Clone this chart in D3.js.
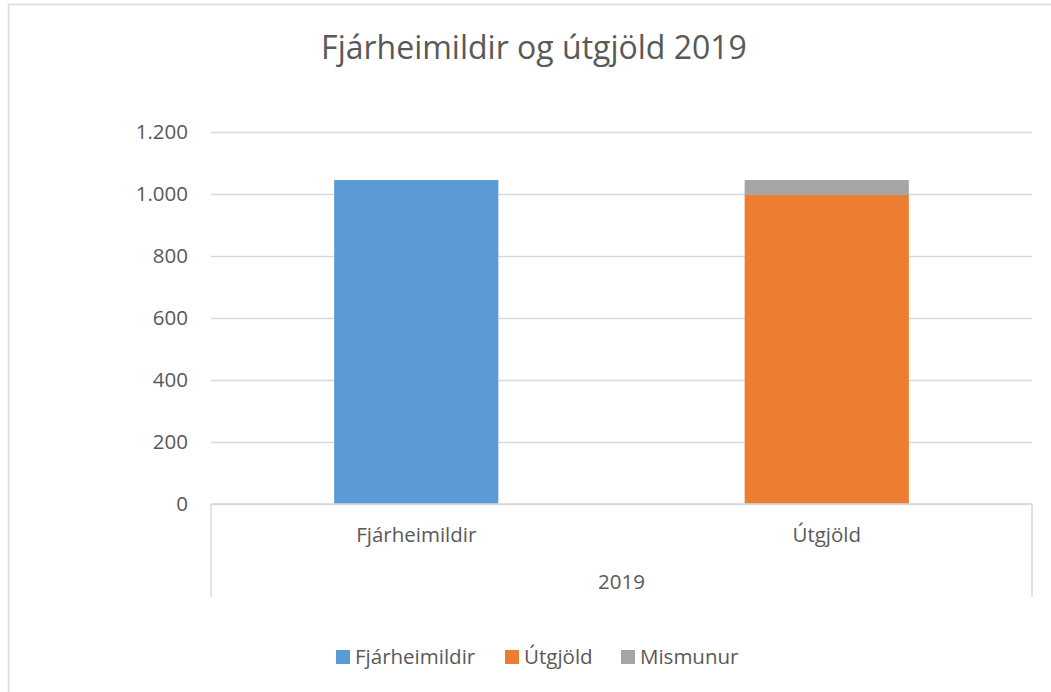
<!DOCTYPE html>
<html>
<head>
<meta charset="utf-8">
<script src="https://cdn.jsdelivr.net/npm/d3@7"></script>
<style>
  body { margin: 0; background: #fff; }
  svg { font-family: "Open Sans", sans-serif; }
</style>
</head>
<body>
<svg id="chart"></svg>
<script>
// data
var categories = ["Fjárheimildir", "Útgjöld"];
var groupLabel = "2019";
var seriesNames = ["Fjárheimildir", "Útgjöld", "Mismunur"];
var fjarheimildir = [1045, 0];
var utgjold = [0, 997];
var mismunur = [0, 48];
var yTicks = [0, 200, 400, 600, 800, 1000, 1200];

var width = 1051, height = 692;
var colors = ["#5B9BD5", "#ED7D31", "#A5A5A5"];
var textColor = "#595959";
var gridColor = "#D9D9D9";
var fontSize = 20.5;

var svg = d3.select("#chart")
    .attr("width", width)
    .attr("height", height);

// outer chart frame
svg.append("rect")
    .attr("x", 8.5).attr("y", 4.5)
    .attr("width", width + 10).attr("height", height + 10)
    .attr("fill", "none")
    .attr("stroke", gridColor)
    .attr("stroke-width", 1.5);

var margin = {top: 132, right: 19, bottom: 188, left: 211};
var plotW = width - margin.left - margin.right,
    plotH = height - margin.top - margin.bottom;

var g = svg.append("g")
    .attr("transform", "translate(" + margin.left + "," + margin.top + ")");

var x = d3.scaleBand().domain(categories).range([0, plotW])
    .paddingInner(0.6).paddingOuter(0.3);
var y = d3.scaleLinear().domain([0, 1200]).range([plotH, 0]);

// title
svg.append("text")
    .attr("x", 534)
    .attr("y", 59)
    .attr("text-anchor", "middle")
    .attr("fill", textColor)
    .attr("font-size", 32)
    .text("Fjárheimildir og útgjöld 2019");

// gridlines + y labels
var yAxis = g.append("g")
    .call(d3.axisLeft(y).tickValues(yTicks).tickSize(-plotW).tickPadding(23)
        .tickFormat(function(d) { return d3.format(",")(d).replace(/,/g, "."); }));
yAxis.select(".domain").remove();
yAxis.selectAll(".tick line").attr("stroke", gridColor).attr("stroke-width", 1.5);
yAxis.selectAll(".tick text")
    .attr("fill", textColor)
    .attr("font-size", fontSize)
    .attr("font-family", "Open Sans, sans-serif");

// stacked bars
var rows = categories.map(function(c, i) {
    return {cat: c, "Fjárheimildir": fjarheimildir[i], "Útgjöld": utgjold[i], "Mismunur": mismunur[i]};
});
var stacked = d3.stack().keys(seriesNames)(rows);

g.selectAll("g.series")
    .data(stacked)
    .enter().append("g")
    .attr("class", "series")
    .attr("fill", function(d, i) { return colors[i]; })
    .selectAll("rect")
    .data(function(d) { return d; })
    .enter().append("rect")
    .attr("x", function(d) { return x(d.data.cat); })
    .attr("y", function(d) { return y(d[1]); })
    .attr("width", x.bandwidth())
    .attr("height", function(d) { return y(d[0]) - y(d[1]); });

// category axis (two levels)
var axisG = g.append("g").attr("transform", "translate(0," + plotH + ")");
axisG.append("line")
    .attr("x1", 0).attr("x2", plotW)
    .attr("stroke", gridColor).attr("stroke-width", 1.5);
[0, plotW].forEach(function(px) {
    axisG.append("line")
        .attr("x1", px).attr("x2", px)
        .attr("y1", 0).attr("y2", 93)
        .attr("stroke", gridColor).attr("stroke-width", 1.5);
});
axisG.selectAll("text.cat")
    .data(categories)
    .enter().append("text")
    .attr("class", "cat")
    .attr("x", function(d) { return x(d) + x.bandwidth() / 2; })
    .attr("y", 38)
    .attr("text-anchor", "middle")
    .attr("fill", textColor)
    .attr("font-size", fontSize)
    .text(function(d) { return d; });
axisG.append("text")
    .attr("x", plotW / 2)
    .attr("y", 85)
    .attr("text-anchor", "middle")
    .attr("fill", textColor)
    .attr("font-size", fontSize)
    .text(groupLabel);

// legend
var legendX = [336, 505, 621];
var legend = svg.selectAll("g.legend")
    .data(seriesNames)
    .enter().append("g")
    .attr("class", "legend")
    .attr("transform", function(d, i) { return "translate(" + legendX[i] + ",650)"; });
legend.append("rect")
    .attr("width", 14).attr("height", 14)
    .attr("fill", function(d, i) { return colors[i]; });
legend.append("text")
    .attr("x", 19)
    .attr("y", 14)
    .attr("fill", textColor)
    .attr("font-size", fontSize)
    .text(function(d) { return d; });
</script>
</body>
</html>
